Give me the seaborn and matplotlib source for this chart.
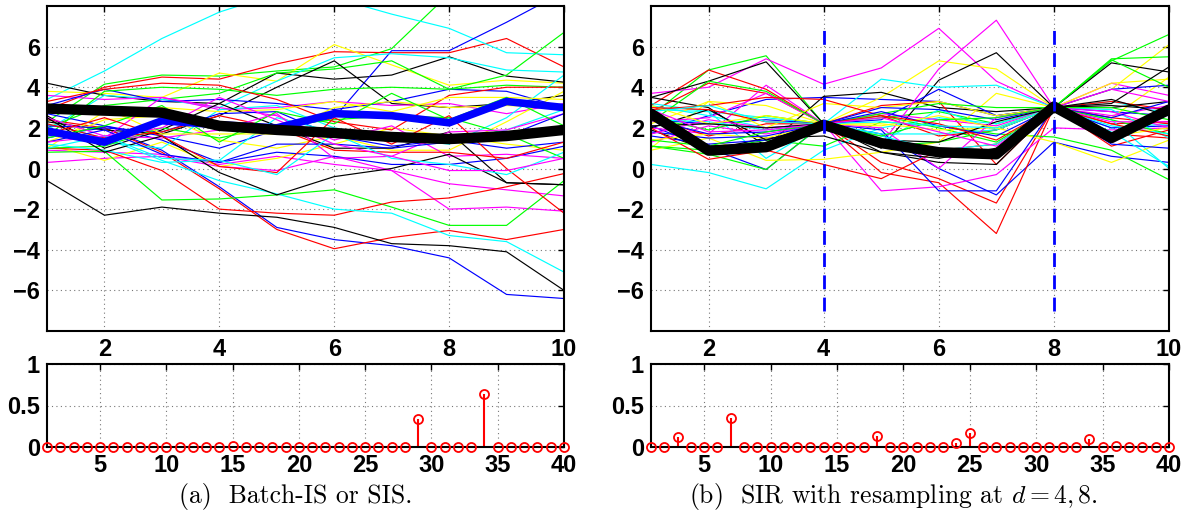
import numpy as np
import pandas as pd
import seaborn as sns
import matplotlib.pyplot as plt

# time steps and particle ids
steps = list(range(1, 11))
particles = list(range(1, 41))

# MATLAB default line colour cycle (b g r c m y k)
color_cycle = ['#0000ff', '#00ff00', '#ff0000', '#00ffff', '#ff00ff', '#ffff00', '#000000']

# (a) Batch-IS / SIS particle paths
paths_a = [
    [1.6, 2.0, 0.9, -0.9, -2.9, -3.5, -3.8, -4.4, -6.2, -6.4],
    [2.3, 4.15, 4.6, 4.55, 4.8, 5.0, 5.9, 8.6, 10.5, 11.0],
    [2.9, 4.0, 4.5, 4.4, 5.15, 5.75, 5.7, 5.7, 6.4, 5.0],
    [3.4, 4.8, 6.4, 7.7, 8.6, 8.4, 7.6, 6.9, 5.7, 5.6],
    [0.3, 0.5, 0.6, 0.1, -0.1, 0.6, -0.1, -2.0, -1.9, -2.1],
    [3.8, 3.7, 3.5, 4.7, 4.3, 6.1, 5.1, 4.1, 4.35, 4.2],
    [4.2, 3.6, 3.3, 3.2, 4.7, 4.4, 4.6, 5.5, 4.55, 4.25],
    [1.5, 2.1, 1.6, 1.0, 1.9, 2.5, 5.8, 5.8, 7.2, 8.7],
    [2.0, 3.1, 3.4, 3.7, 4.7, 4.9, 5.3, 3.9, 4.6, 6.7],
    [2.4, 2.0, 0.8, -1.0, -3.0, -3.95, -3.4, -3.05, -3.5, -3.0],
    [1.9, 3.6, 3.4, 3.0, 4.3, 5.45, 5.65, 5.45, 4.85, 4.75],
    [0.9, 0.8, 0.7, 0.2, 0.6, 0.2, -0.1, -0.75, -1.05, -1.35],
    [1.2, 0.4, 1.3, 0.1, 0.5, 1.2, 2.0, 1.6, 1.2, 0.9],
    [2.3, 1.9, 1.7, 2.6, 4.0, 5.3, 3.2, 3.0, 3.2, 3.6],
    [2.7, 2.1, 1.4, 0.3, 0.8, 0.6, 0.2, 0.2, 0.5, 1.1],
    [0.8, 0.85, -1.55, -1.5, -1.3, -1.05, -1.9, -2.8, -2.8, -0.6],
    [1.0, 0.9, -0.1, -2.0, -2.2, -2.3, -1.65, -1.45, -0.9, -0.25],
    [2.2, 1.5, 0.4, -0.6, -1.25, -2.0, -2.2, -3.3, -3.6, -5.1],
    [3.6, 3.4, 3.5, 2.9, 3.0, 3.3, 3.1, 3.2, 2.7, 3.2],
    [1.3, 2.4, 2.6, 1.4, 1.0, 1.6, 0.9, 0.9, 2.3, 3.8],
    [-0.6, -2.3, -1.9, -2.2, -2.4, -2.9, -3.7, -3.8, -4.1, -6.0],
    [3.1, 3.9, 3.3, 3.4, 3.2, 2.9, 3.3, 3.9, 3.8, 3.0],
    [1.6, 3.8, 4.0, 3.9, 3.6, 3.9, 4.0, 3.9, 4.1, 4.0],
    [3.3, 3.9, 4.2, 4.1, 3.4, 2.3, 1.9, 3.6, 4.0, 4.0],
    [1.8, 1.3, 1.0, 2.9, 3.1, 2.0, 1.5, 1.2, 2.5, 4.6],
    [1.9, 1.5, 3.5, 3.0, 2.6, 1.4, 2.1, 0.6, 0.7, 0.5],
    [1.0, 2.8, 3.0, 2.8, 2.9, 3.3, 2.8, 3.5, 3.5, 3.4],
    [2.6, 1.0, 1.9, 3.2, 2.1, 1.0, 1.0, 1.8, -0.7, -0.8],
    [2.1, 2.0, 1.8, 2.7, 2.8, 1.6, 1.1, 1.4, 1.0, 1.3],
    [1.0, 1.1, 2.0, 1.5, 2.1, 2.4, 2.6, 2.5, 1.7, 0.5],
    [2.2, 1.5, 1.8, 2.6, 2.0, 0.9, 0.8, 0.8, 0.5, 1.3],
    [1.2, 0.9, 0.3, 0.4, 2.5, 1.8, 1.6, 1.3, 1.9, 2.9],
    [2.5, 1.6, 1.5, 1.9, 2.7, 0.5, 0.6, 1.8, 1.9, 2.7],
    [3.1, 3.0, 1.7, 1.7, 1.7, 3.0, 3.3, 3.0, 3.1, 3.0],
    [2.5, 0.8, 1.6, -0.2, -1.3, -0.4, 0.0, 0.7, -0.7, -0.8],
    [1.3, 1.9, 0.7, 0.3, 1.2, 1.2, 1.0, 1.3, 1.6, 2.7],
    [1.5, 2.1, 3.1, 1.3, 2.8, 2.2, 3.7, 2.4, 3.5, 2.1],
    [1.7, 2.5, 1.6, 0.1, -0.2, 2.5, 1.2, 2.6, 0.0, -2.2],
    [1.0, 1.6, 0.5, 0.4, -0.3, 1.7, 0.5, 0.2, -0.3, 0.8],
    [1.3, 1.6, 2.0, 3.5, 2.4, 1.2, 0.6, -0.1, -0.1, 0.5],
]
blue_a = [1.85, 1.3, 2.35, 2.15, 2.0, 2.7, 2.6, 2.25, 3.3, 3.0]
black_a = [2.95, 2.85, 2.75, 2.1, 1.9, 1.75, 1.55, 1.45, 1.6, 1.9]
weights_a = [0, 0, 0, 0, 0, 0, 0, 0, 0, 0,
             0, 0, 0, 0, 0.01, 0, 0, 0, 0, 0,
             0, 0, 0, 0, 0, 0, 0, 0, 0.34, 0,
             0, 0, 0, 0.64, 0, 0, 0, 0, 0, 0]

# (b) SIR with resampling at d = 4, 8
paths_b = [
    [1.7, 2.6, 3.4, 3.5, 3.4, 3.3, 2.6, 3.0, 2.8, 2.6],
    [2.6, 4.85, 5.55, 2.2, 2.5, 2.8, 2.2, 3.0, 5.3, 6.6],
    [3.1, 4.85, 3.9, 2.2, 0.3, -0.5, -1.7, 3.0, 1.7, 1.5],
    [0.2, -0.2, -1.0, 0.9, 2.0, 2.5, 2.2, 3.0, 2.0, 2.2],
    [3.7, 4.0, 5.4, 4.15, 4.95, 6.9, 4.3, 3.0, 4.2, 3.6],
    [1.0, 3.3, 3.1, 2.2, 3.5, 5.3, 4.9, 3.0, 3.9, 6.1],
    [3.5, 4.3, 5.25, 2.2, 1.0, 4.35, 5.7, 3.0, 5.2, 4.75],
    [2.1, 1.0, -0.05, 2.2, 1.7, 0.0, -1.3, 1.3, 0.6, 0.3],
    [1.1, 0.7, -0.05, 2.2, 2.6, 2.0, 1.3, 3.0, 5.4, 5.5],
    [2.8, 4.2, 3.7, 2.2, -0.2, -0.7, -3.2, 3.0, 2.2, 2.3],
    [3.2, 2.8, 2.5, 2.2, 4.4, 4.0, 4.1, 3.0, 3.3, 2.7],
    [2.0, 1.7, 4.1, 2.2, -1.1, -0.9, -0.3, 2.0, 1.9, 2.0],
    [0.9, 1.5, 0.4, 0.45, 0.8, 1.3, 3.7, 3.0, 2.5, 4.5],
    [3.5, 3.0, 1.1, 3.55, 3.75, 3.0, 2.8, 3.0, 3.1, 2.9],
    [2.4, 2.2, 2.4, 2.2, 2.4, 3.9, 2.6, 3.0, 3.9, 4.1],
    [1.1, 0.9, 1.4, 1.1, 2.3, 2.1, 1.7, 1.55, 0.9, -0.55],
    [2.5, 1.6, 2.2, 2.2, 3.1, 3.3, 0.2, 3.0, 3.3, 2.9],
    [2.9, 2.8, 0.5, 2.2, 1.3, 2.9, 1.9, 3.0, 2.4, 0.0],
    [2.3, 2.5, 3.7, 2.2, 2.7, 2.4, 2.1, 3.0, 2.6, 3.1],
    [2.2, 3.3, 2.0, 3.2, 3.0, 3.3, 2.6, 3.0, 4.2, 4.4],
    [1.9, 0.9, 1.5, 1.6, 0.8, 0.3, 0.2, 3.0, 3.0, 3.3],
    [1.6, 1.2, 1.4, 2.2, 3.0, 2.9, 2.4, 3.0, 2.0, 2.1],
    [2.3, 4.3, 3.8, 2.2, 1.1, 1.3, 1.9, 3.0, 5.35, 4.0],
    [2.9, 3.1, 3.5, 3.4, 2.6, 1.6, 1.9, 3.0, 2.5, 2.2],
    [3.1, 2.6, 2.0, 2.2, 1.7, 1.7, 1.9, 3.0, 2.9, 1.5],
    [1.3, 2.1, 1.7, 2.2, 1.2, 4.9, 7.3, 3.0, 2.8, 2.0],
    [1.4, 1.7, 1.5, 2.2, 2.2, 1.9, 2.0, 1.3, 0.3, 1.4],
    [2.0, 2.9, 1.4, 2.2, 1.4, 1.3, 2.3, 3.0, 3.2, 5.0],
    [1.8, 1.5, 1.6, 2.2, 1.9, -1.1, -1.1, 3.0, 2.5, 3.3],
    [2.5, 1.9, 2.6, 2.2, 2.7, 3.2, 3.0, 3.0, 2.4, 1.7],
    [2.0, 0.45, 0.9, 0.2, -0.5, 0.9, 1.2, 3.0, 1.1, 1.9],
    [2.4, 2.3, 1.9, 2.2, 1.6, 0.9, 1.2, 3.0, 2.1, 1.7],
    [1.7, 2.4, 2.0, 2.2, 2.0, 0.0, 2.5, 3.0, 3.9, 3.3],
    [3.1, 2.2, 2.6, 2.2, 2.1, 2.6, 2.0, 3.0, 1.6, 2.0],
    [2.1, 2.2, 2.0, 2.2, 0.8, 0.5, 1.0, 3.0, 3.4, 2.6],
    [2.4, 1.7, 1.8, 2.2, 2.8, 2.1, 1.6, 3.0, 1.2, 1.0],
    [1.4, 1.1, 1.8, 2.2, 1.6, 2.4, 2.5, 3.0, 3.0, 2.4],
    [3.0, 2.9, 2.3, 2.2, 2.6, 2.2, 1.4, 3.0, 2.2, 1.6],
    [2.8, 3.1, 2.3, 2.2, 2.3, 2.1, 2.0, 3.0, 1.8, 0.1],
    [2.9, 1.8, 1.9, 2.2, 2.5, 1.8, 1.1, 3.0, 2.3, 2.3],
]
black_b = [2.7, 0.88, 1.05, 2.15, 1.25, 0.8, 0.7, 3.05, 1.5, 2.9]
weights_b = [0, 0, 0.12, 0, 0, 0, 0.35, 0, 0, 0,
             0, 0, 0, 0, 0, 0, 0, 0.13, 0, 0,
             0, 0, 0, 0.05, 0.17, 0, 0, 0, 0, 0,
             0, 0, 0, 0.10, 0, 0.01, 0, 0, 0, 0]
resample_steps = [4, 8]

captions = ['(a)  Batch-IS or SIS.', '(b)  SIR with resampling at $d = 4, 8$.']


def long_frame(paths):
    rows = []
    for i, p in enumerate(paths):
        for s, v in zip(steps, p):
            rows.append({'particle': f'p{i:02d}', 'step': s, 'value': v})
    return pd.DataFrame(rows)


sns.set_theme(style='white')
plt.rcParams['font.family'] = ['Liberation Sans', 'DejaVu Sans']
plt.rcParams['font.weight'] = 'bold'
plt.rcParams['mathtext.fontset'] = 'cm'
plt.rcParams['axes.linewidth'] = 1.5
plt.rcParams['axes.edgecolor'] = 'black'

fig = plt.figure(figsize=(11.84, 5.24), dpi=100)
W, H = 1184, 524


def fax(l, t, r, b):
    return fig.add_axes([l / W, 1 - b / H, (r - l) / W, (b - t) / H])


def style_axes(ax):
    ax.grid(True, linestyle=(0, (1, 3)), color='#777777', linewidth=0.8)
    ax.tick_params(direction='in', length=4, width=1, top=True, right=True,
                   labelsize=17, colors='black', pad=5)
    for lab in ax.get_xticklabels() + ax.get_yticklabels():
        lab.set_fontweight('bold')
    ax.set_xlabel('')
    ax.set_ylabel('')
    for sp in ax.spines.values():
        sp.set_visible(True)
        sp.set_linewidth(1.5)
        sp.set_color('black')
        sp.set_zorder(10)


panels = [
    (paths_a, black_a, blue_a, weights_a, [], 47, 564),
    (paths_b, black_b, None, weights_b, resample_steps, 651, 1169),
]

for k, (paths, black, blue, weights, vlines, l, r) in enumerate(panels):
    ax = fax(l, 6, r, 331)
    df = long_frame(paths)
    pal = {f'p{i:02d}': color_cycle[i % 7] for i in range(len(paths))}
    sns.lineplot(data=df, x='step', y='value', hue='particle', palette=pal,
                 estimator=None, legend=False, linewidth=0.85, ax=ax)
    if blue is not None:
        sns.lineplot(x=steps, y=blue, color='#0000ff', linewidth=5.5, ax=ax)
    sns.lineplot(x=steps, y=black, color='black', linewidth=7.5, ax=ax)
    for d in vlines:
        ax.plot([d, d], [-7, 7], color='#0000ff', linewidth=2,
                linestyle=(0, (5, 3)))
    ax.set_xlim(1, 10)
    ax.set_ylim(-8, 8)
    ax.set_xticks([2, 4, 6, 8, 10])
    ax.set_yticks([-6, -4, -2, 0, 2, 4, 6])
    style_axes(ax)

    axw = fax(l, 364, r, 447)
    ml, sl, bl = axw.stem(particles, weights, linefmt='-', markerfmt='o', basefmt=' ')
    plt.setp(sl, color='#ff0000', linewidth=1.5)
    plt.setp(ml, color='#ff0000', markerfacecolor='none', markersize=6.5,
             markeredgewidth=1.3, clip_on=False, zorder=12)
    axw.set_xlim(1, 40)
    axw.set_ylim(0, 1)
    axw.set_xticks([5, 10, 15, 20, 25, 30, 35, 40])
    axw.set_yticks([0, 0.5, 1])
    axw.set_yticklabels(['0', '0.5', '1'])
    style_axes(axw)

    cx = [296, 893][k]
    fig.text(cx / W, 1 - 497 / H, captions[k], ha='center', va='center',
             fontsize=18.5, family='cmr10', fontweight='normal', color='black')

fig.savefig('out.png', dpi=100)
